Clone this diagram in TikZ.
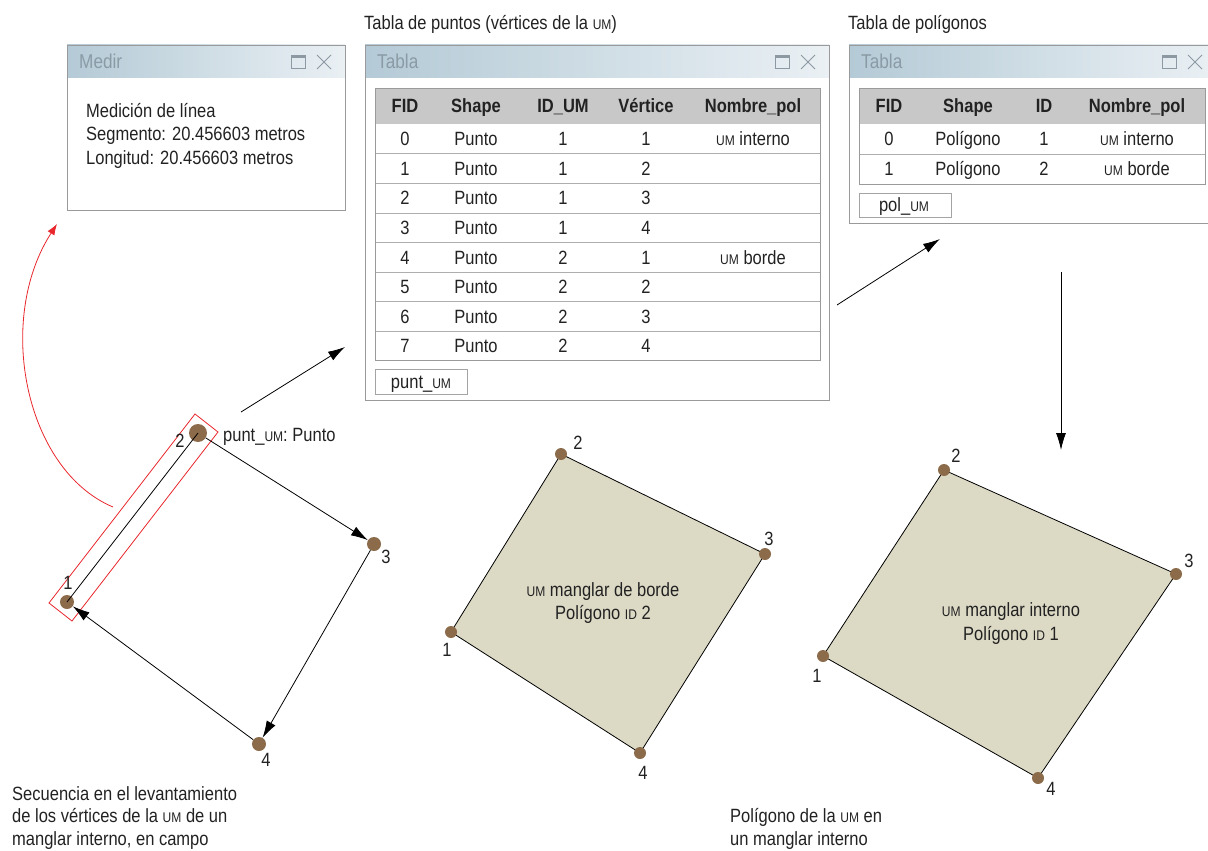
\documentclass[tikz,border=0pt]{standalone}
\usepackage{fontspec}
\setmainfont{Liberation Sans}[FakeStretch=0.86]
\usetikzlibrary{arrows.meta}
\definecolor{dotc}{HTML}{8C6B4B}
\definecolor{polyc}{HTML}{DCD9C5}
\definecolor{barL}{HTML}{B4CAD6}
\definecolor{barR}{HTML}{EAF0F4}
\definecolor{framec}{HTML}{9A9A9A}
\definecolor{hdrc}{HTML}{C8C8C8}
\definecolor{titlec}{HTML}{8A9BA5}
\definecolor{iconc}{HTML}{8C98A2}
\definecolor{redc}{HTML}{E8262B}
\definecolor{txtc}{HTML}{222222}
\newcommand{\um}{{\fontsize{14}{14}\selectfont UM}}
\newcommand{\iid}{{\fontsize{14}{14}\selectfont ID}}
\begin{document}
\begin{tikzpicture}[x=1pt,y=-1pt,
  every node/.style={font=\fontsize{19.2}{23.5}\selectfont, text=txtc, inner sep=0pt},
  cell/.style={text height=13.5pt, text depth=0pt, anchor=center},
  hcell/.style={cell, font=\fontsize{19.2}{23.5}\selectfont\bfseries},
  winframe/.style={draw=framec, line width=0.9pt},
  rowline/.style={draw=framec!80, line width=0.8pt},
  wtitle/.style={anchor=west, text=titlec, text height=13.5pt, text depth=0pt, font=\fontsize{20}{20}\selectfont},
  iconline/.style={draw=iconc, line width=0.9pt},
  arr/.style={draw=black, line width=0.8pt, -{Latex[length=17pt,width=10pt]}},
  seqline/.style={draw=black, line width=0.8pt},
  dotbig/.style={circle, fill=dotc, minimum size=18pt},
  dot/.style={circle, fill=dotc, minimum size=14pt},
  pdot/.style={circle, fill=dotc, minimum size=12pt},
  polyfill/.style={fill=polyc, draw=black, line width=0.8pt},
  num/.style={text height=13.5pt, text depth=0pt, anchor=center},
  redarr/.style={draw=redc, line width=0.8pt, -{Latex[length=11pt,width=8pt]}}
]
\useasboundingbox (0,0) rectangle (1208,851);
\clip (0,0) rectangle (1208,851);

% ---------- Medir window ----------
\shade[left color=barL, right color=barR] (67,45) rectangle (345,78);
\draw[winframe] (67,45) rectangle (345,210);
\node[wtitle] (medirt) at (79,62) {Medir};
\draw[iconline] (291,55.5) rectangle (305,68.5);
\fill[iconc] (291,55) rectangle (305,58);
\draw[iconline] (317,55) -- (331,69) (317,69) -- (331,55);
\node[anchor=base west, align=left] (medirtxt) at (86,164)
  {Medición de línea\\Segmento: 20.456603 metros\\Longitud: 20.456603 metros};

% ---------- Tabla de puntos ----------
\node[anchor=base west] (cap1) at (364,29.5) {Tabla de puntos (vértices de la \um)};
\shade[left color=barL, right color=barR] (365,45) rectangle (829,78);
\draw[winframe] (365,45) rectangle (829,400);
\node[wtitle] (tab1t) at (377,62) {Tabla};
\draw[iconline] (775,55.5) rectangle (789,68.5);
\fill[iconc] (775,55) rectangle (789,58);
\draw[iconline] (801,55) -- (815,69) (801,69) -- (815,55);
\fill[hdrc] (375,88) rectangle (820,124.2);
\foreach \k in {1,...,7} \draw[rowline] (375,{124.2+29.57*\k}) -- (820,{124.2+29.57*\k});
\draw[winframe] (375,88) rectangle (820,360.8);
\node[hcell] (h1) at (405,106) {FID};
\node[hcell] (h2) at (476,106) {Shape};
\node[hcell] (h3) at (563,106) {ID\_UM};
\node[hcell] (h4) at (646,106) {Vértice};
\node[hcell] (h5) at (753,106) {Nombre\_pol};
\foreach \f/\i/\v/\n [count=\k from 0] in {0/1/1/{\um\ interno},1/1/2/{},2/1/3/{},3/1/4/{},4/2/1/{\um\ borde},5/2/2/{},6/2/3/{},7/2/4/{}}{
  \node[cell] (ra\k) at (405,{139+29.57*\k}) {\f};
  \node[cell] (rb\k) at (476,{139+29.57*\k}) {Punto};
  \node[cell] (rc\k) at (563,{139+29.57*\k}) {\i};
  \node[cell] (rd\k) at (646,{139+29.57*\k}) {\v};
  \node[cell] (re\k) at (753,{139+29.57*\k}) {\n};
}
\draw[winframe, draw=framec!90] (375,369) rectangle (467,394);
\node[cell] (tab1n) at (421,381.5) {punt\_\um};

% ---------- Tabla de polígonos ----------
\node[anchor=base west] (cap2) at (848,29.5) {Tabla de polígonos};
\shade[left color=barL, right color=barR] (849,45) rectangle (1215,78);
\draw[winframe] (849,45) rectangle (1215,223);
\node[wtitle] (tab2t) at (861,62) {Tabla};
\draw[iconline] (1162,55.5) rectangle (1176,68.5);
\fill[iconc] (1162,55) rectangle (1176,58);
\draw[iconline] (1188,55) -- (1202,69) (1188,69) -- (1202,55);
\fill[hdrc] (859,88) rectangle (1205,124.2);
\draw[rowline] (859,154.1) -- (1205,154.1);
\draw[winframe] (859,88) rectangle (1205,184);
\node[hcell] (g1) at (889,106) {FID};
\node[hcell] (g2) at (968,106) {Shape};
\node[hcell] (g3) at (1044,106) {ID};
\node[hcell] (g4) at (1137,106) {Nombre\_pol};
\node[cell] (s1a) at (889,139) {0};
\node[cell] (s1b) at (968,139) {Polígono};
\node[cell] (s1c) at (1044,139) {1};
\node[cell] (s1d) at (1137,139) {\um\ interno};
\node[cell] (s2a) at (889,169) {1};
\node[cell] (s2b) at (968,169) {Polígono};
\node[cell] (s2c) at (1044,169) {2};
\node[cell] (s2d) at (1137,169) {\um\ borde};
\draw[winframe, draw=framec!90] (859,193) rectangle (951,217);
\node[cell] (tab2n) at (904,205) {pol\_\um};

% ---------- flow arrows ----------
\coordinate (a1s) at (241,412); \coordinate (a1e) at (345,347);
\coordinate (a2s) at (837,305); \coordinate (a2e) at (940,239);
\coordinate (a3s) at (1061,272); \coordinate (a3e) at (1061,450);
\draw[arr] (a1s) -- (a1e);
\draw[arr] (a2s) -- (a2e);
\draw[arr] (a3s) -- (a3e);

% ---------- sequence in the field ----------
\coordinate (r0) at (113,507); \coordinate (r1) at (57,224);
\draw[redarr] (r0) .. controls (25,470) and (-5,320) .. (r1);
\draw[draw=redc, line width=0.8pt] (49,603) -- (72,621) -- (218,432) -- (195,414) -- cycle;
\node[dotbig] (p2) at (198,433) {};
\node[dot] (p1) at (67,602) {};
\node[dot] (p3) at (374,544) {};
\node[dot] (p4) at (259,744) {};
\draw[seqline] (p1.center) -- (p2.center);
\draw[arr] (p2) -- (p3);
\draw[arr] (p3) -- (p4);
\draw[arr] (p4) -- (p1);
\node[num] (l2) at (180,441) {2};
\node[num] (l1) at (68,583) {1};
\node[num] (l3) at (386,557) {3};
\node[num] (l4) at (266,760) {4};
\node[anchor=west, text height=13.5pt, text depth=0pt] (pl) at (223,435) {punt\_\um: Punto};

% ---------- polygon borde ----------
\coordinate (m1) at (451,632); \coordinate (m2) at (561,454);
\coordinate (m3) at (765,554); \coordinate (m4) at (640,753);
\draw[polyfill] (m1) -- (m2) -- (m3) -- (m4) -- cycle;
\foreach \q in {m1,m2,m3,m4} \node[pdot] (d\q) at (\q) {};
\node[num] (lm2) at (578,443) {2};
\node[num] (lm3) at (769,539) {3};
\node[num] (lm1) at (447,650) {1};
\node[num] (lm4) at (643,773) {4};
\node[cell] (tm1) at (603,590) {\um\ manglar de borde};
\node[cell] (tm2) at (603,613) {Polígono \iid\ 2};

% ---------- polygon interno ----------
\coordinate (n1) at (823,656); \coordinate (n2) at (944,470);
\coordinate (n3) at (1176,574); \coordinate (n4) at (1038,778);
\draw[polyfill] (n1) -- (n2) -- (n3) -- (n4) -- cycle;
\foreach \q in {n1,n2,n3,n4} \node[pdot] (d\q) at (\q) {};
\node[num] (ln2) at (956,456) {2};
\node[num] (ln3) at (1189,561) {3};
\node[num] (ln1) at (817,676) {1};
\node[num] (ln4) at (1051,789) {4};
\node[cell] (tn1) at (1011,610) {\um\ manglar interno};
\node[cell] (tn2) at (1011,634) {Polígono \iid\ 1};

% ---------- captions ----------
\node[anchor=base west, align=left, font=\fontsize{19.2}{22.5}\selectfont] (capL) at (12,845)
  {Secuencia en el levantamiento\\de los vértices de la \um\ de un\\manglar interno, en campo};
\node[anchor=base west, align=left, font=\fontsize{19.2}{22.5}\selectfont] (capR) at (730,845)
  {Polígono de la \um\ en\\un manglar interno};
\end{tikzpicture}
\end{document}
